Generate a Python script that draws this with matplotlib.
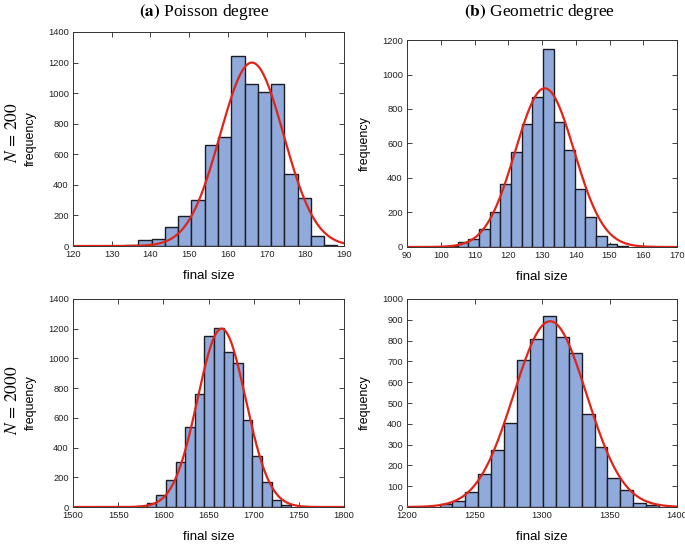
import numpy as np
import matplotlib.pyplot as plt

#################################
# Data

# (a) Poisson degree, N = 200
a_first_edge = 130.0
a_bin_width = 3.43
a_counts = [3, 5, 42, 48, 122, 198, 304, 662, 712, 1242, 1061, 1010, 1062,
            474, 311, 66, 8]
a_fit = dict(peak=1200, mu=166.2, sd=8.2)

# (b) Geometric degree, N = 200
b_first_edge = 101.9
b_bin_width = 3.15
b_counts = [5, 30, 46, 106, 204, 367, 548, 712, 872, 1146, 722, 560, 335,
            175, 65, 20, 5]
b_fit = dict(peak=920, mu=130.8, sd=8.7)

# (c) Poisson degree, N = 2000
c_first_edge = 1570.9
c_bin_width = 10.64
c_counts = [8, 25, 80, 183, 302, 536, 762, 1150, 1205, 1040, 968, 583, 344,
            166, 50, 15]
c_fit = dict(peak=1200, mu=1664.5, sd=26.6)

# (d) Geometric degree, N = 2000
d_first_edge = 1224.1
d_bin_width = 9.565
d_counts = [16, 27, 72, 158, 274, 405, 709, 807, 918, 815, 740, 447, 289,
            141, 80, 21, 8]
d_fit = dict(peak=893, mu=1306.0, sd=27.0)

xlims = [(120, 190), (90, 170), (1500, 1800), (1200, 1400)]
xticks = [np.arange(120, 191, 10), np.arange(90, 171, 10),
          np.arange(1500, 1801, 50), np.arange(1200, 1401, 50)]
ylims = [(0, 1400), (0, 1200), (0, 1400), (0, 1000)]
yticks = [np.arange(0, 1401, 200), np.arange(0, 1201, 200),
          np.arange(0, 1401, 200), np.arange(0, 1001, 100)]
#################################

plt.rcParams['mathtext.fontset'] = 'stix'
sans = 'Liberation Sans'
serif = 'Liberation Serif'

bar_col = '#90aadc'
edge_col = '#1c1c24'
red = '#e02418'

fig = plt.figure(figsize=(6.85, 5.45), dpi=100)

# axes boxes (left, bottom, width, height) in figure fraction
boxes = [[0.1066, 0.5486, 0.3956, 0.3927],
         [0.5942, 0.5468, 0.3942, 0.3798],
         [0.1066, 0.0697, 0.3956, 0.3817],
         [0.5942, 0.0697, 0.3942, 0.3817]]

panels = [(a_first_edge, a_bin_width, a_counts, a_fit),
          (b_first_edge, b_bin_width, b_counts, b_fit),
          (c_first_edge, c_bin_width, c_counts, c_fit),
          (d_first_edge, d_bin_width, d_counts, d_fit)]

for i, (first, width, counts, fit) in enumerate(panels):
    ax = fig.add_axes(boxes[i])
    lefts = first + width*np.arange(len(counts))
    ax.bar(lefts, counts, width=width, align='edge', color=bar_col,
           edgecolor=edge_col, linewidth=1.0, zorder=2)
    xx = np.linspace(xlims[i][0], xlims[i][1], 400)
    yy = fit['peak']*np.exp(-0.5*((xx - fit['mu'])/fit['sd'])**2)
    ax.plot(xx, yy, color=red, lw=1.6, zorder=3)
    ax.set_xlim(xlims[i])
    ax.set_ylim(ylims[i])
    ax.set_xticks(xticks[i])
    ax.set_yticks(yticks[i])
    ax.tick_params(direction='in', top=True, right=True, length=3.5,
                   width=0.6, labelsize=6.7, pad=3, colors='#222222')
    for lab in ax.get_xticklabels() + ax.get_yticklabels():
        lab.set_family(sans)
    for s in ax.spines.values():
        s.set_linewidth(0.7)
        s.set_color('#333333')
    ax.set_xlabel('final size', fontsize=9.5, family=sans, labelpad=8)
    ax.set_ylabel('frequency', fontsize=9, family=sans, labelpad=8)

# column titles
fig.text(0.298, 0.978, r'$\mathbf{(a)}$ Poisson degree', ha='center',
         va='center', fontsize=12.5, family=serif)
fig.text(0.787, 0.978, r'$\mathbf{(b)}$ Geometric degree', ha='center',
         va='center', fontsize=12.5, family=serif)

# row labels
fig.text(0.018, 0.757, r'$N\,=\,200$', rotation=90, ha='center', va='center',
         fontsize=12.5)
fig.text(0.018, 0.265, r'$N\,=\,2000$', rotation=90, ha='center', va='center',
         fontsize=12.5)

plt.savefig('out.png', dpi=100)
